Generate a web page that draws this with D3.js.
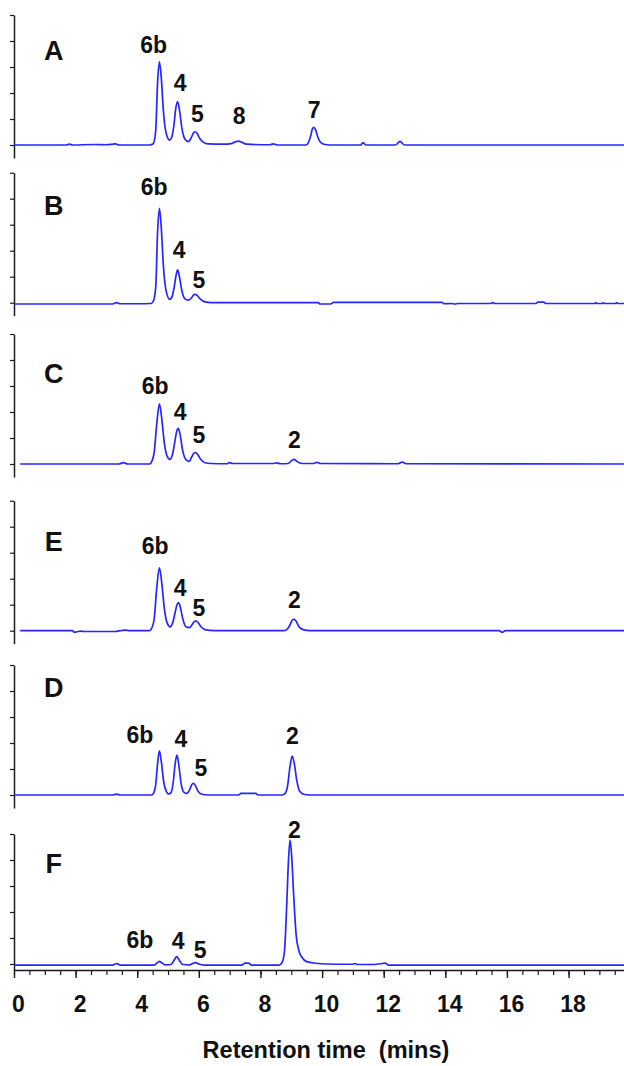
<!DOCTYPE html>
<html>
<head>
<meta charset="utf-8">
<script src="https://cdn.jsdelivr.net/npm/d3@7"></script>
<style>
  html, body { margin: 0; padding: 0; background: #fff; }
  svg { display: block; }
  text { font-family: "Liberation Sans", Arial, sans-serif; font-weight: bold; fill: #111; }
</style>
</head>
<body>
<svg id="chart" width="624" height="1066"></svg>
<script>
// HPLC traces, one per sample; [retention time (min), detector response (arb. units)]
const panelNames = ["A", "B", "C", "E", "D", "F"];

const traceA = [
  [0,0],[1.7,0],[1.8,0.03],[1.9,0],[2.6,0.02],[3.0,0.01],[3.3,0.04],[3.4,0],[4.4,0],
  [4.52,0.05],[4.6,0.55],[4.66,2.4],[4.72,3.2],[4.78,2.6],[4.85,1.3],[4.93,0.5],[5.05,0.19],
  [5.12,0.3],[5.19,0.75],[5.25,1.4],[5.31,1.67],[5.37,1.35],[5.45,0.65],[5.55,0.22],[5.66,0.13],
  [5.76,0.3],[5.83,0.47],[5.88,0.51],[5.94,0.45],[6.03,0.25],[6.15,0.1],[6.3,0.04],[6.8,0.03],[7.05,0.05],
  [7.18,0.12],[7.28,0.15],[7.38,0.11],[7.55,0.03],[8.3,0.01],[8.42,0.04],[8.55,0],[9.48,0],
  [9.55,0.08],[9.63,0.35],[9.68,0.6],[9.73,0.68],[9.79,0.58],[9.87,0.28],[9.97,0.08],[10.1,0.02],
  [10.4,0],[11.25,0],[11.33,0.09],[11.42,0],[12.38,0],[12.53,0.14],[12.68,0],[19.8,0]
];

const traceB = [
  [0,-0.05],[3.2,-0.05],[3.33,0],[3.45,-0.04],[4.0,-0.04],[4.45,-0.03],
  [4.52,0.05],[4.6,0.6],[4.66,2.7],[4.72,3.63],[4.78,2.9],[4.85,1.4],[4.93,0.5],[5.05,0.13],
  [5.12,0.2],[5.2,0.6],[5.26,1.05],[5.31,1.26],[5.37,1.0],[5.45,0.45],[5.55,0.15],[5.66,0.1],
  [5.77,0.2],[5.83,0.3],[5.88,0.32],[5.95,0.27],[6.05,0.14],[6.2,0.03],[6.4,0],
  [9.88,0],[9.93,-0.05],[10.28,-0.05],[10.37,0.015],[13.9,0.015],[13.96,-0.04],[14.2,-0.03],
  [14.3,-0.05],[14.43,-0.03],[15.48,-0.03],[15.54,0],[15.6,-0.03],[16.95,-0.03],[17.0,0.02],
  [17.2,0.02],[17.26,-0.03],[18.85,-0.03],[18.88,0.0],[18.92,-0.03],[19.1,-0.03],[19.13,0],
  [19.16,-0.03],[19.53,-0.03],[19.56,0],[19.6,-0.03],[19.8,-0.03]
];

const traceC = [
  [0.2,0],[3.4,0],[3.55,0.05],[3.7,0],[4.4,0],
  [4.45,0.05],[4.55,0.45],[4.63,1.5],[4.72,2.31],[4.8,1.7],[4.88,0.8],[4.97,0.3],[5.06,0.18],
  [5.14,0.35],[5.22,0.85],[5.28,1.25],[5.33,1.37],[5.39,1.15],[5.47,0.55],[5.57,0.18],[5.68,0.1],
  [5.78,0.3],[5.84,0.42],[5.89,0.44],[5.96,0.37],[6.06,0.18],[6.2,0.05],[6.4,0.02],[6.9,0.01],
  [7.0,0.05],[7.1,0.02],[8.4,0.02],[8.53,0.04],[8.65,0.01],[8.9,0.02],
  [9.0,0.12],[9.09,0.18],[9.18,0.1],[9.35,0.02],[9.7,0.02],[9.83,0.06],[9.95,0.02],
  [12.45,0.01],[12.6,0.07],[12.75,0.01],[19.8,0]
];

const traceE = [
  [0.2,0],[1.9,0],[1.95,-0.06],[2.05,-0.04],[2.15,-0.02],[2.3,-0.03],[3.3,-0.03],[3.4,-0.01],
  [3.6,0.02],[3.75,0],[4.4,0],
  [4.45,0.05],[4.55,0.45],[4.63,1.6],[4.72,2.42],[4.8,1.8],[4.88,0.85],[4.97,0.3],[5.07,0.15],
  [5.15,0.3],[5.23,0.7],[5.29,1.0],[5.34,1.08],[5.4,0.9],[5.48,0.45],[5.58,0.15],[5.7,0.12],
  [5.8,0.27],[5.86,0.36],[5.9,0.38],[5.97,0.32],[6.07,0.15],[6.2,0.04],[6.5,0],[8.75,0],
  [8.85,0.04],[8.95,0.2],[9.03,0.4],[9.09,0.44],[9.16,0.36],[9.25,0.15],[9.38,0.04],[9.6,0],
  [15.75,0],[15.85,-0.06],[15.95,0],[19.8,0]
];

const traceD = [
  [0,0],[3.2,0],[3.33,0.03],[3.45,0],[4.45,0],
  [4.52,0.05],[4.6,0.4],[4.66,1.2],[4.72,1.7],[4.78,1.3],[4.86,0.5],[4.95,0.12],[5.02,0.04],
  [5.1,0.1],[5.17,0.5],[5.23,1.2],[5.29,1.53],[5.35,1.15],[5.43,0.4],[5.52,0.1],[5.6,0.06],
  [5.7,0.2],[5.77,0.4],[5.82,0.45],[5.88,0.38],[5.97,0.15],[6.1,0.03],[6.3,0],[7.3,0],
  [7.36,0.06],[7.85,0.06],[7.92,0],[8.7,0],
  [8.8,0.06],[8.88,0.35],[8.96,1.1],[9.03,1.5],[9.1,1.2],[9.18,0.55],[9.27,0.15],[9.4,0.03],
  [9.6,0],[19.8,0]
];

const traceF = [
  [0,-0.04],[3.2,-0.04],[3.33,0.02],[3.45,-0.04],[4.55,-0.04],[4.66,0.06],[4.72,0.1],[4.8,0.04],
  [4.9,-0.03],[5.1,-0.02],[5.2,0.15],[5.28,0.28],[5.36,0.15],[5.48,-0.02],[5.7,-0.03],
  [5.82,0.03],[5.9,0.05],[6.0,0.0],[6.15,-0.04],[7.4,-0.04],[7.5,0.03],[7.62,0.03],[7.7,-0.04],
  [8.6,-0.04],
  [8.7,0.05],[8.78,0.5],[8.85,2.2],[8.91,4.0],[8.96,4.77],[9.01,4.2],[9.08,2.6],[9.16,1.1],
  [9.25,0.5],[9.35,0.25],[9.5,0.09],[9.8,0.03],[10.15,0],[11.0,-0.01],[11.07,0.02],[11.15,-0.02],
  [11.6,-0.02],[11.9,0.01],[12.05,0.03],[12.15,-0.04],[19.8,-0.04]
];

const traces = [traceA, traceB, traceC, traceE, traceD, traceF];

// Peak annotations: [compound, retention time, response level of the label baseline]
const peaksA = [["6b",4.53,3.53],["4",5.39,2.09],["5",5.95,0.9],["8",7.31,0.81],["7",9.74,1.03]];
const peaksB = [["6b",4.55,4.14],["4",5.36,1.71],["5",6.0,0.55]];
const peaksC = [["6b",4.58,2.69],["4",5.39,1.69],["5",6.0,0.82],["2",9.1,0.63]];
const peaksE = [["6b",4.58,2.95],["4",5.39,1.33],["5",6.0,0.56],["2",9.1,0.86]];
const peaksD = [["6b",4.09,1.99],["4",5.42,1.86],["5",6.07,0.73],["2",9.04,1.95]];
const peaksF = [["6b",4.09,0.6],["4",5.33,0.58],["5",6.04,0.22],["2",9.1,4.83]];
const peakLabels = [peaksA, peaksB, peaksC, peaksE, peaksD, peaksF];

// Panel letter anchors: [retention time, response level]
const letterPos = [[1.29,3.27],[1.29,3.37],[1.29,3.1],[1.29,3.07],[1.29,3.77],[1.29,3.49]];

const xMajorTicks = [0, 2, 4, 6, 8, 10, 12, 14, 16, 18];
const xMinorTicks = d3.range(0, 19.8, 0.5);
const yTicks = [0, 1, 2, 3, 4, 5];
const xTitle = "Retention time  (mins)";

// ---- layout ----
const W = 624, H = 1066;
const axisX = 14, xAxisY = 970;
const baselines = [145, 302.7, 464, 630.7, 795, 964];
const unit = 26;
const lineColor = "#2626ff";
const axisColor = "#1a1a1a";

const svg = d3.select("#chart");
svg.append("rect").attr("width", W).attr("height", H).attr("fill", "#fff");

const x = d3.scaleLinear().domain([0, 19.8]).range([axisX, 624]);

const line = d3.line().curve(d3.curveMonotoneX);

traces.forEach((data, i) => {
  const base = baselines[i];
  const y = d3.scaleLinear().domain([0, 5]).range([base, base - 5 * unit]);
  const g = svg.append("g");
  const bottom = i === traces.length - 1 ? xAxisY : base + 13;
  const yAx = d3.scaleLinear().domain([y.invert(bottom), 5]).range([bottom, base - 5 * unit]);

  const axis = d3.axisLeft(yAx).tickValues(yTicks).tickSize(4).tickSizeOuter(0).tickFormat("");
  const ag = g.append("g").attr("transform", `translate(${axisX},0)`).call(axis);
  ag.select(".domain").attr("stroke", axisColor).attr("stroke-width", 1.5);
  ag.selectAll(".tick line").attr("stroke", axisColor).attr("stroke-width", 1.2);

  line.x(d => x(d[0])).y(d => y(d[1]));
  g.append("path")
    .datum(data)
    .attr("d", line)
    .attr("fill", "none")
    .attr("stroke", lineColor)
    .attr("stroke-width", 1.7)
    .attr("stroke-linejoin", "round");

  g.append("text")
    .attr("x", x(letterPos[i][0]))
    .attr("y", y(letterPos[i][1]))
    .attr("text-anchor", "middle")
    .attr("font-size", 27)
    .text(panelNames[i]);

  g.selectAll("text.peak")
    .data(peakLabels[i])
    .join("text")
    .attr("class", "peak")
    .attr("x", d => x(d[1]))
    .attr("y", d => y(d[2]))
    .attr("text-anchor", "middle")
    .attr("font-size", 23)
    .text(d => d[0]);
});

// bottom time axis
const xg = svg.append("g").attr("transform", `translate(0,${xAxisY})`);
xg.append("g")
  .call(d3.axisBottom(x).tickValues(xMinorTicks).tickSize(5).tickSizeOuter(0).tickFormat(""))
  .call(s => s.select(".domain").attr("stroke", axisColor).attr("stroke-width", 1.5))
  .call(s => s.selectAll(".tick line").attr("stroke", axisColor).attr("stroke-width", 1.2));
xg.append("g")
  .call(d3.axisBottom(x).tickValues(xMajorTicks).tickSize(8).tickSizeOuter(0).tickPadding(18))
  .call(s => s.select(".domain").remove())
  .call(s => s.selectAll(".tick line").attr("stroke", axisColor).attr("stroke-width", 1.4))
  .call(s => s.selectAll(".tick text")
    .attr("font-size", 23)
    .attr("font-family", "'Liberation Sans', Arial, sans-serif")
    .attr("font-weight", "bold")
    .attr("fill", "#111")
    .attr("dx", 4));

svg.append("text")
  .attr("x", 326)
  .attr("y", 1058)
  .attr("text-anchor", "middle")
  .attr("font-size", 23.5)
  .style("white-space", "pre")
  .text(xTitle);
</script>
</body>
</html>
